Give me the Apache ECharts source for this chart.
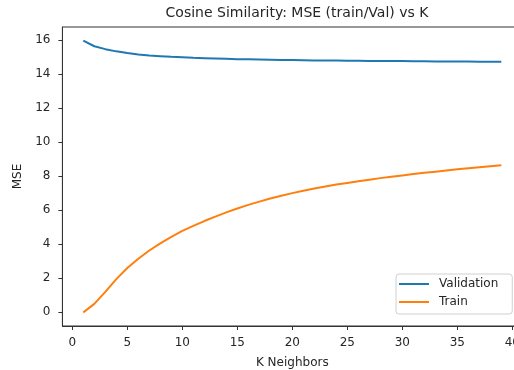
<!DOCTYPE html>
<html>
<head>
<meta charset="utf-8">
<script src="https://cdn.jsdelivr.net/npm/echarts@6/dist/echarts.min.js"></script>
<style>
html,body{margin:0;padding:0;background:#fff;}
#chart{width:514px;height:370px;}
</style>
</head>
<body>
<div id="chart"></div>
<script>
const kNeighbors = [1,2,3,4,5,6,7,8,9,10,11,12,13,14,15,16,17,18,19,20,21,22,23,24,25,26,27,28,29,30,31,32,33,34,35,36,37,38,39];
const validationMSE = [15.95,15.62,15.45,15.32,15.22,15.14,15.08,15.04,15.00,14.97,14.94,14.92,14.90,14.88,14.86,14.85,14.84,14.83,14.82,14.81,14.80,14.79,14.79,14.78,14.77,14.77,14.76,14.76,14.75,14.75,14.74,14.74,14.73,14.73,14.72,14.72,14.71,14.71,14.71];
const trainMSE = [0.0,0.5,1.2,1.95,2.6,3.15,3.63,4.05,4.43,4.78,5.08,5.36,5.62,5.87,6.1,6.31,6.5,6.68,6.85,7.0,7.14,7.27,7.39,7.5,7.6,7.7,7.79,7.88,7.96,8.04,8.12,8.19,8.26,8.33,8.4,8.46,8.52,8.58,8.64];
const xTicks = [0,5,10,15,20,25,30,35,40];
const yTicks = [0,2,4,6,8,10,12,14,16];

const font = 'DejaVu Sans';
const ink = '#262626';
const chart = echarts.init(document.getElementById('chart'), null, {renderer:'canvas'});
chart.setOption({
  animation: false,
  backgroundColor: '#fff',
  title: {
    text: 'Cosine Similarity: MSE (train/Val) vs K',
    left: 292, top: 1, textAlign: 'center',
    textStyle: {fontFamily: font, fontSize: 14, fontWeight: 'normal', color: ink}
  },
  grid: {left: 62.4, top: 27, width: 459.8, height: 299, show: true, borderColor: '#333', borderWidth: 1,
         backgroundColor: 'transparent', containLabel: false, outerBoundsMode: 'none'},
  legend: {
    orient: 'vertical',
    left: 396, top: 274,
    data: ['Validation', 'Train'],
    icon: 'rect', itemWidth: 30, itemHeight: 2, itemGap: 6,
    padding: [4, 14, 6, 3],
    borderColor: '#d0d0d0', borderWidth: 1, borderRadius: 3,
    backgroundColor: 'rgba(255,255,255,0.8)',
    textStyle: {fontFamily: font, fontSize: 12, color: ink, padding: [0,0,0,5]}
  },
  xAxis: {
    type: 'value', min: -0.9, max: 40.9,
    name: 'K Neighbors', nameLocation: 'middle', nameGap: 31,
    nameTextStyle: {fontFamily: font, fontSize: 12, color: ink},
    axisLine: {show: true, onZero: false, lineStyle: {color: '#333', width: 1}},
    axisTick: {show: true, length: 4, customValues: xTicks, lineStyle: {color: '#333'}},
    axisLabel: {customValues: xTicks, margin: 11, fontFamily: font, fontSize: 12, color: ink},
    splitLine: {show: false}
  },
  yAxis: {
    type: 'value', min: -0.8, max: 16.75,
    name: 'MSE', nameLocation: 'middle', nameGap: 31,
    nameTextStyle: {fontFamily: font, fontSize: 12, color: ink},
    axisLine: {show: true, onZero: false, lineStyle: {color: '#333', width: 1}},
    axisTick: {show: true, length: 4, customValues: yTicks, lineStyle: {color: '#333'}},
    axisLabel: {customValues: yTicks, margin: 12, fontFamily: font, fontSize: 12, color: ink},
    splitLine: {show: false}
  },
  series: [
    {name: 'Validation', type: 'line', showSymbol: false, symbol: 'none',
     data: kNeighbors.map((k, i) => [k, validationMSE[i]]),
     lineStyle: {color: '#1f77b4', width: 2}, itemStyle: {color: '#1f77b4'}},
    {name: 'Train', type: 'line', showSymbol: false, symbol: 'none',
     data: kNeighbors.map((k, i) => [k, trainMSE[i]]),
     lineStyle: {color: '#ff7f0e', width: 2}, itemStyle: {color: '#ff7f0e'}}
  ]
});
</script>
</body>
</html>
